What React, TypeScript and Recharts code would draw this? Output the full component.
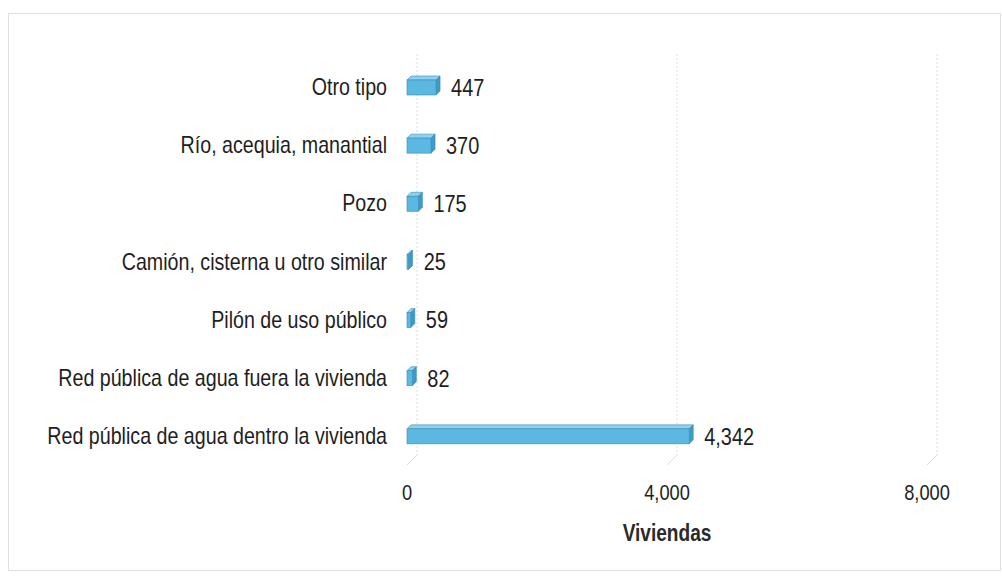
import { BarChart, Bar, XAxis, YAxis, CartesianGrid, LabelList, Label } from "recharts";

const categories = [
  "Otro tipo",
  "Río, acequia, manantial",
  "Pozo",
  "Camión, cisterna u otro similar",
  "Pilón de uso público",
  "Red pública de agua fuera la vivienda",
  "Red pública de agua dentro la vivienda",
];
const viviendas = [447, 370, 175, 25, 59, 82, 4342];
const xTicks = [0, 4000, 8000];

const data = categories.map((name, i) => ({ name, value: viviendas[i] }));

// no narrow font installed, so squeeze Liberation Sans horizontally
const FONT = "'Liberation Sans', Arial, sans-serif";
const SQUEEZE = "scale(0.83,1)";
const INK = "#1e1e1e";
const fmt = (v: number) => v.toLocaleString("en-US");

// 3D-ish box: front face + top face + right side
function Box3D(props: any) {
  const { x, y, width, height } = props;
  const d = 4;
  const w = Math.max(width, 1.5);
  return (
    <g>
      <polygon
        points={`${x},${y} ${x + d},${y - d} ${x + w + d},${y - d} ${x + w},${y}`}
        fill="#8fd1ef"
        stroke="#3a8cb0"
        strokeWidth={0.6}
      />
      <polygon
        points={`${x + w},${y} ${x + w + d},${y - d} ${x + w + d},${y + height - d} ${x + w},${y + height}`}
        fill="#3c9cc8"
        stroke="#3a8cb0"
        strokeWidth={0.6}
      />
      <rect x={x} y={y} width={w} height={height} fill="#5ab8e3" stroke="#3a8cb0" strokeWidth={0.6} />
    </g>
  );
}

function GridLine(props: any) {
  const { x1, y1, y2, key } = props;
  return (
    <g key={key}>
      <line x1={x1 + 10} y1={y1 - 4} x2={x1 + 10} y2={y2 - 10} stroke="#dcdcdc" strokeDasharray="2 2" />
      <line x1={x1} y1={y2} x2={x1 + 10} y2={y2 - 10} stroke="#dcdcdc" />
    </g>
  );
}

function CatTick(props: any) {
  const { x, y, payload } = props;
  return (
    <g transform={`translate(${x},${y})`}>
      <text transform="scale(0.855,1)" textAnchor="end" dy="0.35em" fontSize={23} fill={INK} fontFamily={FONT}>
        {payload.value}
      </text>
    </g>
  );
}

function NumTick(props: any) {
  const { x, y, payload } = props;
  return (
    <g transform={`translate(${x},${y})`}>
      <text transform={SQUEEZE} textAnchor="middle" dy="0.71em" fontSize={22} fill={INK} fontFamily={FONT}>
        {fmt(payload.value)}
      </text>
    </g>
  );
}

function ValueLabel(props: any) {
  const { x, y, width, height, value } = props;
  return (
    <g transform={`translate(${x + Math.max(width, 1.5) + 15},${y + height / 2})`}>
      <text transform={SQUEEZE} dy="0.35em" fontSize={24} fill={INK} fontFamily={FONT}>
        {fmt(Number(value))}
      </text>
    </g>
  );
}

function AxisTitle(props: any) {
  const { x, y, width, height } = props.viewBox;
  return (
    <g transform={`translate(${x + width / 2},${y + height - 4})`}>
      <text transform={SQUEEZE} textAnchor="middle" fontSize={23} fontWeight={700} fill="#2a2a2a" fontFamily={FONT}>
        Viviendas
      </text>
    </g>
  );
}

export default function App() {
  return (
    <div style={{ position: "absolute", left: 0, top: 0, width: 1002, height: 576, background: "#fff" }}>
      <div
        style={{
          position: "absolute",
          left: 8,
          top: 13,
          width: 991,
          height: 556,
          border: "1px solid #e0e0e0",
        }}
      />
      <div style={{ position: "absolute", left: 0, top: 0 }}>
        <BarChart
          width={1002}
          height={576}
          data={data}
          layout="vertical"
          margin={{ top: 58, right: 75, bottom: 31, left: 0 }}
          barCategoryGap={22}
        >
          <CartesianGrid horizontal={false} vertical={GridLine} />
          <XAxis
            type="number"
            domain={[0, 8000]}
            ticks={xTicks}
            axisLine={false}
            tickLine={false}
            tickSize={0}
            tickMargin={19}
            height={80}
            tick={<NumTick />}
          >
            <Label content={<AxisTitle />} />
          </XAxis>
          <YAxis
            type="category"
            dataKey="name"
            width={407}
            axisLine={false}
            tickLine={false}
            tickSize={0}
            tickMargin={20}
            interval={0}
            tick={<CatTick />}
          />
          <Bar dataKey="value" shape={<Box3D />} isAnimationActive={false} barSize={15}>
            <LabelList dataKey="value" content={<ValueLabel />} />
          </Bar>
        </BarChart>
      </div>
    </div>
  );
}
